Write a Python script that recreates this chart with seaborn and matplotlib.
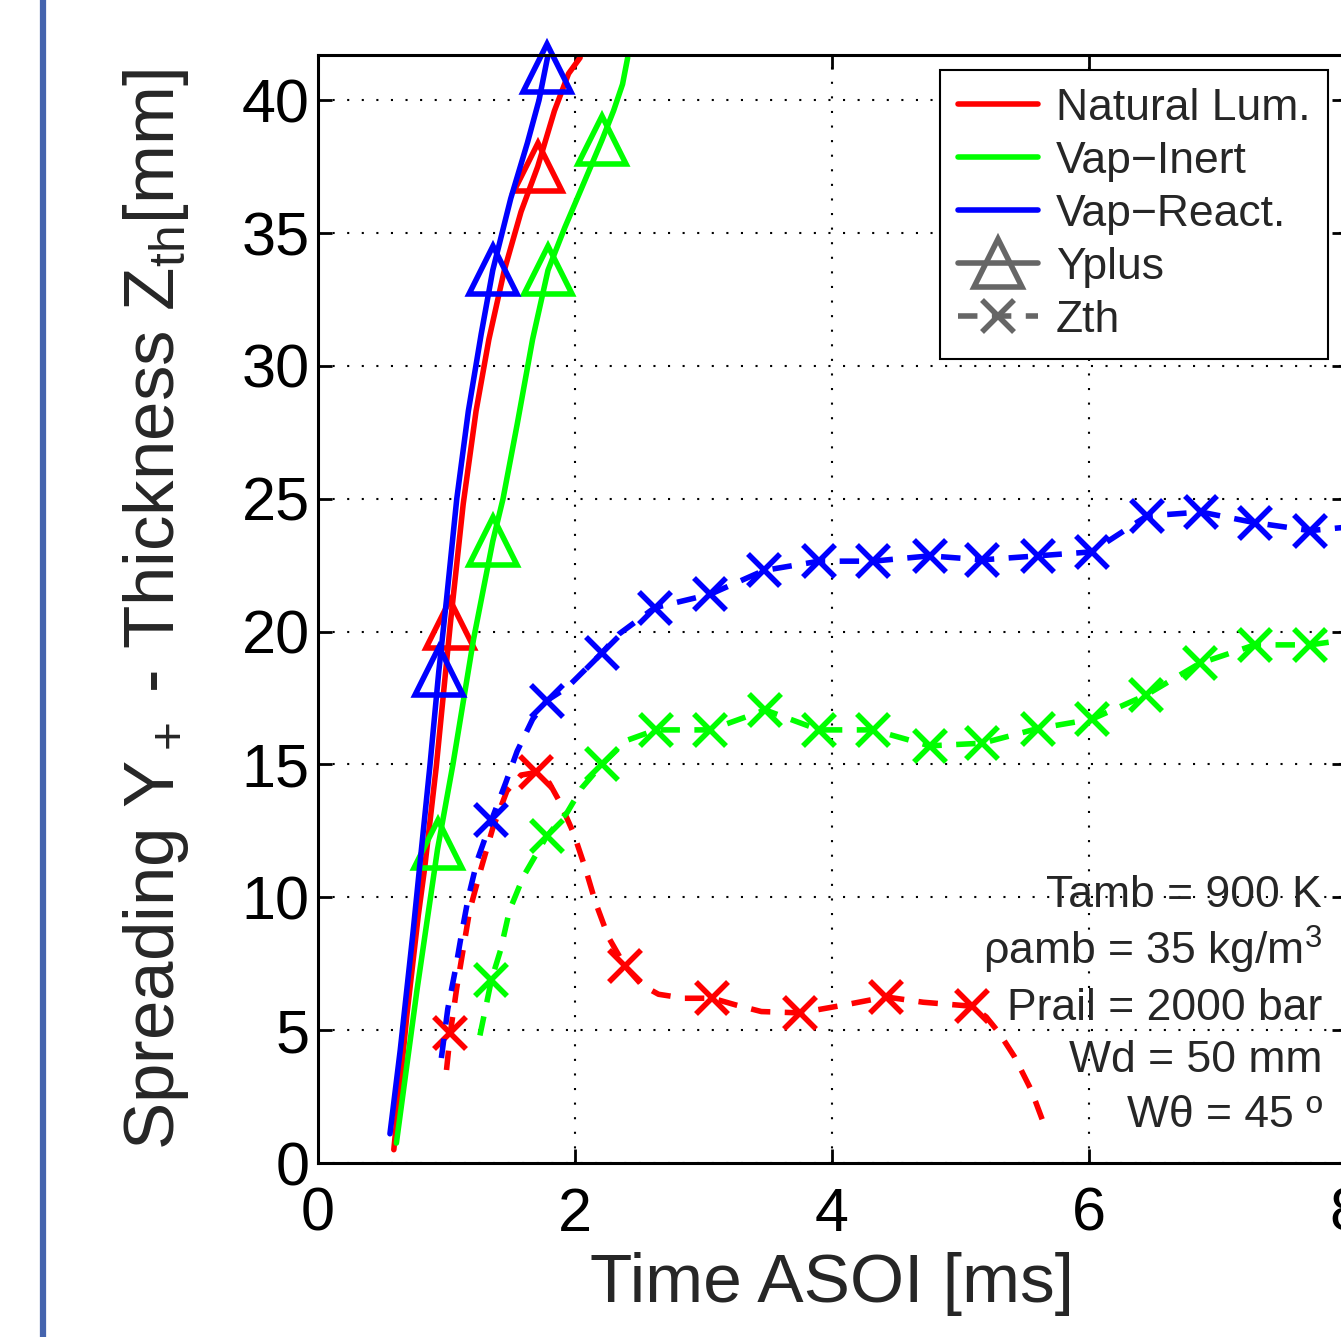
import matplotlib
matplotlib.use("Agg")
import matplotlib.pyplot as plt
import seaborn as sns
from matplotlib.lines import Line2D

# ---- Yplus (spreading), solid lines ----
nat_yp_t = [0.59, 0.69, 0.78, 0.83, 0.92, 1.03, 1.13, 1.23, 1.33, 1.45, 1.58, 1.71, 1.84, 1.95, 2.04]
nat_yp_v = [0.5, 5.5, 9.3, 11.1, 14.9, 20.3, 24.8, 28.3, 31.0, 33.6, 35.8, 37.5, 39.6, 41.0, 41.6]
nat_yp_mk_t = [1.03, 1.71]
nat_yp_mk_v = [20.3, 37.5]

ine_yp_t = [0.61, 0.77, 0.93, 1.05, 1.21, 1.36, 1.44, 1.55, 1.67, 1.79, 1.92, 2.07, 2.21, 2.30, 2.37, 2.41]
ine_yp_v = [0.75, 6.5, 11.8, 15.0, 19.7, 23.4, 25.0, 27.8, 31.0, 33.6, 35.2, 36.9, 38.5, 39.6, 40.6, 41.6]
ine_yp_mk_t = [0.93, 1.36, 1.79, 2.21]
ine_yp_mk_v = [12.0, 23.4, 33.6, 38.5]

rea_yp_t = [0.56, 0.64, 0.74, 0.79, 0.87, 0.94, 1.00, 1.08, 1.17, 1.27, 1.36, 1.50, 1.63, 1.72, 1.79]
rea_yp_v = [1.1, 4.25, 8.7, 11.1, 14.9, 18.5, 21.2, 25.0, 28.3, 31.2, 33.6, 36.3, 38.4, 40.0, 41.7]
rea_yp_mk_t = [0.94, 1.36, 1.78]
rea_yp_mk_v = [18.5, 33.6, 41.2]

# ---- Zth (thickness), dashed lines ----
nat_zt_t = [1.00, 1.03, 1.08, 1.18, 1.27, 1.36, 1.47, 1.58, 1.70, 1.80, 1.88, 1.99, 2.08, 2.16, 2.26,
            2.39, 2.52, 2.65, 2.85, 3.07, 3.25, 3.45, 3.75, 4.10, 4.42, 4.71, 5.09, 5.20, 5.30, 5.42,
            5.55, 5.67]
nat_zt_v = [3.5, 4.9, 6.6, 9.5, 11.1, 12.6, 14.0, 14.6, 14.7, 14.3, 13.6, 12.4, 11.1, 9.8, 8.5,
            7.4, 6.7, 6.35, 6.2, 6.2, 5.95, 5.7, 5.65, 5.95, 6.25, 6.05, 5.9, 5.5, 4.9, 4.0,
            2.75, 1.2]
nat_zt_mk_t = [1.03, 1.70, 2.39, 3.07, 3.75, 4.42, 5.09]
nat_zt_mk_v = [4.9, 14.7, 7.4, 6.2, 5.65, 6.25, 5.9]

ine_zt_mk_t = [1.35, 1.78, 2.21, 2.63, 3.05, 3.48, 3.90, 4.32, 4.76, 5.17, 5.60, 6.02, 6.44, 6.86, 7.29, 7.72]
ine_zt_mk_v = [6.9, 12.3, 15.0, 16.3, 16.3, 17.05, 16.3, 16.3, 15.7, 15.8, 16.35, 16.7, 17.6, 18.8, 19.5, 19.5]
ine_zt_t = [1.26, 1.35, 1.42, 1.49, 1.60, 1.78, 1.94, 2.05, 2.21, 2.40, 2.63, 3.05, 3.48, 3.90, 4.32,
            4.76, 5.17, 5.60, 6.02, 6.44, 6.86, 7.29, 7.72, 8.16]
ine_zt_v = [4.8, 6.9, 8.0, 9.5, 10.8, 12.3, 13.2, 14.1, 15.0, 15.9, 16.3, 16.3, 17.05, 16.3, 16.3,
            15.7, 15.8, 16.35, 16.7, 17.6, 18.8, 19.5, 19.5, 19.8]

rea_zt_mk_t = [1.35, 1.78, 2.21, 2.62, 3.05, 3.47, 3.90, 4.32, 4.76, 5.17, 5.60, 6.02, 6.45, 6.87, 7.29, 7.72]
rea_zt_mk_v = [12.9, 17.4, 19.2, 20.9, 21.4, 22.3, 22.65, 22.65, 22.85, 22.7, 22.85, 23.0, 24.35, 24.5, 24.1, 23.8]
rea_zt_t = [0.96, 1.01, 1.07, 1.12, 1.17, 1.24, 1.35, 1.46, 1.55, 1.67, 1.78, 1.94, 2.21, 2.34, 2.62,
            3.05, 3.47, 3.90, 4.32, 4.76, 5.17, 5.60, 6.02, 6.45, 6.87, 7.29, 7.72, 8.16]
rea_zt_v = [3.95, 5.8, 7.3, 8.7, 10.0, 11.4, 12.9, 14.3, 15.5, 16.7, 17.4, 17.9, 19.2, 19.9, 20.9,
            21.4, 22.3, 22.65, 22.65, 22.85, 22.7, 22.85, 23.0, 24.35, 24.5, 24.1, 23.8, 24.0]

case_labels = ["Natural Lum.", "Vap\u2212Inert", "Vap\u2212React."]
case_colors = ["#ff0000", "#00ff00", "#0000ff"]
info_lines = ["Tamb = 900 K", "\u03c1amb = 35 kg/m$^3$", "Prail = 2000 bar", "Wd = 50 mm", "W\u03b8 = 45 \u00ba"]

sns.set_theme(style="ticks")
plt.rcParams["font.family"] = ["Liberation Sans", "DejaVu Sans"]
plt.rcParams["mathtext.fontset"] = "custom"
plt.rcParams["mathtext.rm"] = "Liberation Sans"
plt.rcParams["mathtext.it"] = "Liberation Sans:italic"

LW = 4
DASH = (0, (3.5, 2.6))

fig = plt.figure(figsize=(13.41, 13.37), dpi=100)
ax = fig.add_axes([318 / 1341, 174 / 1337, 1028 / 1341, 1108 / 1337])


def solid(t, v, c):
    sns.lineplot(x=t, y=v, color=c, lw=LW, estimator=None, sort=False, ax=ax)


def dashed(t, v, c):
    sns.lineplot(x=t, y=v, color=c, lw=LW, linestyle=DASH, estimator=None, sort=False, ax=ax)


def marks(t, v, c, m, ms):
    sns.lineplot(x=t, y=v, color=c, linestyle="none", marker=m, markersize=ms,
                 markerfacecolor="none", markeredgecolor=c, markeredgewidth=LW,
                 estimator=None, sort=False, clip_on=False, ax=ax)


yp = [(nat_yp_t, nat_yp_v, nat_yp_mk_t, nat_yp_mk_v),
      (ine_yp_t, ine_yp_v, ine_yp_mk_t, ine_yp_mk_v),
      (rea_yp_t, rea_yp_v, rea_yp_mk_t, rea_yp_mk_v)]
zt = [(nat_zt_t, nat_zt_v, nat_zt_mk_t, nat_zt_mk_v),
      (ine_zt_t, ine_zt_v, ine_zt_mk_t, ine_zt_mk_v),
      (rea_zt_t, rea_zt_v, rea_zt_mk_t, rea_zt_mk_v)]

for (t, v, mt, mv), c in zip(yp, case_colors):
    solid(t, v, c)
    marks(mt, mv, c, "^", 34)
for (t, v, mt, mv), c in zip(zt, case_colors):
    dashed(t, v, c)
    marks(mt, mv, c, "x", 23)

ax.set_xlim(0, 8)
ax.set_ylim(0, 41.7)
ax.set_xticks([0, 2, 4, 6, 8])
ax.set_yticks(range(0, 41, 5))
ax.grid(True, color="black", lw=1.5, linestyle=(0, (1, 6)))
ax.tick_params(direction="in", length=10, width=2, top=True, right=True,
               labelsize=44, colors="black")
ax.tick_params(axis="x", pad=17)
ax.tick_params(axis="y", pad=6)
for s in ax.spines.values():
    s.set_visible(True)
    s.set_linewidth(2.2)
    s.set_color("black")

ax.set_xlabel("Time ASOI [ms]", fontsize=50, labelpad=6)
ax.set_ylabel(r"Spreading Y$_+$ - Thickness Z$_{\mathrm{th}}$[mm]", fontsize=51, labelpad=36)

for i, txt in enumerate(info_lines):
    ax.text(0.9767, [0.231, 0.1787, 0.129, 0.0821, 0.0325][i], txt, ha="right", va="baseline",
            fontsize=32, transform=ax.transAxes)

gray = "#666666"
handles = [Line2D([], [], color=c, lw=LW) for c in case_colors]
handles.append(Line2D([], [], color=gray, lw=LW, marker="^", ms=34, mfc="none", mec=gray, mew=LW))
handles.append(Line2D([], [], color=gray, lw=LW, ls=DASH, marker="x", ms=23, mec=gray, mew=LW))
leg = ax.legend(handles, case_labels + ["Yplus", "Zth"], loc="upper right",
                bbox_to_anchor=(0.9825, 0.9865), borderaxespad=0, fontsize=32,
                handlelength=1.8, handletextpad=0.4, labelspacing=0.27, borderpad=0.4,
                fancybox=False, framealpha=1, edgecolor="black")
leg.get_frame().set_linewidth(1.5)

fig.add_artist(Line2D([43 / 1341, 43 / 1341], [0, 1], color="#4564ae", lw=4.5))

fig.savefig("out.png", dpi=100)
